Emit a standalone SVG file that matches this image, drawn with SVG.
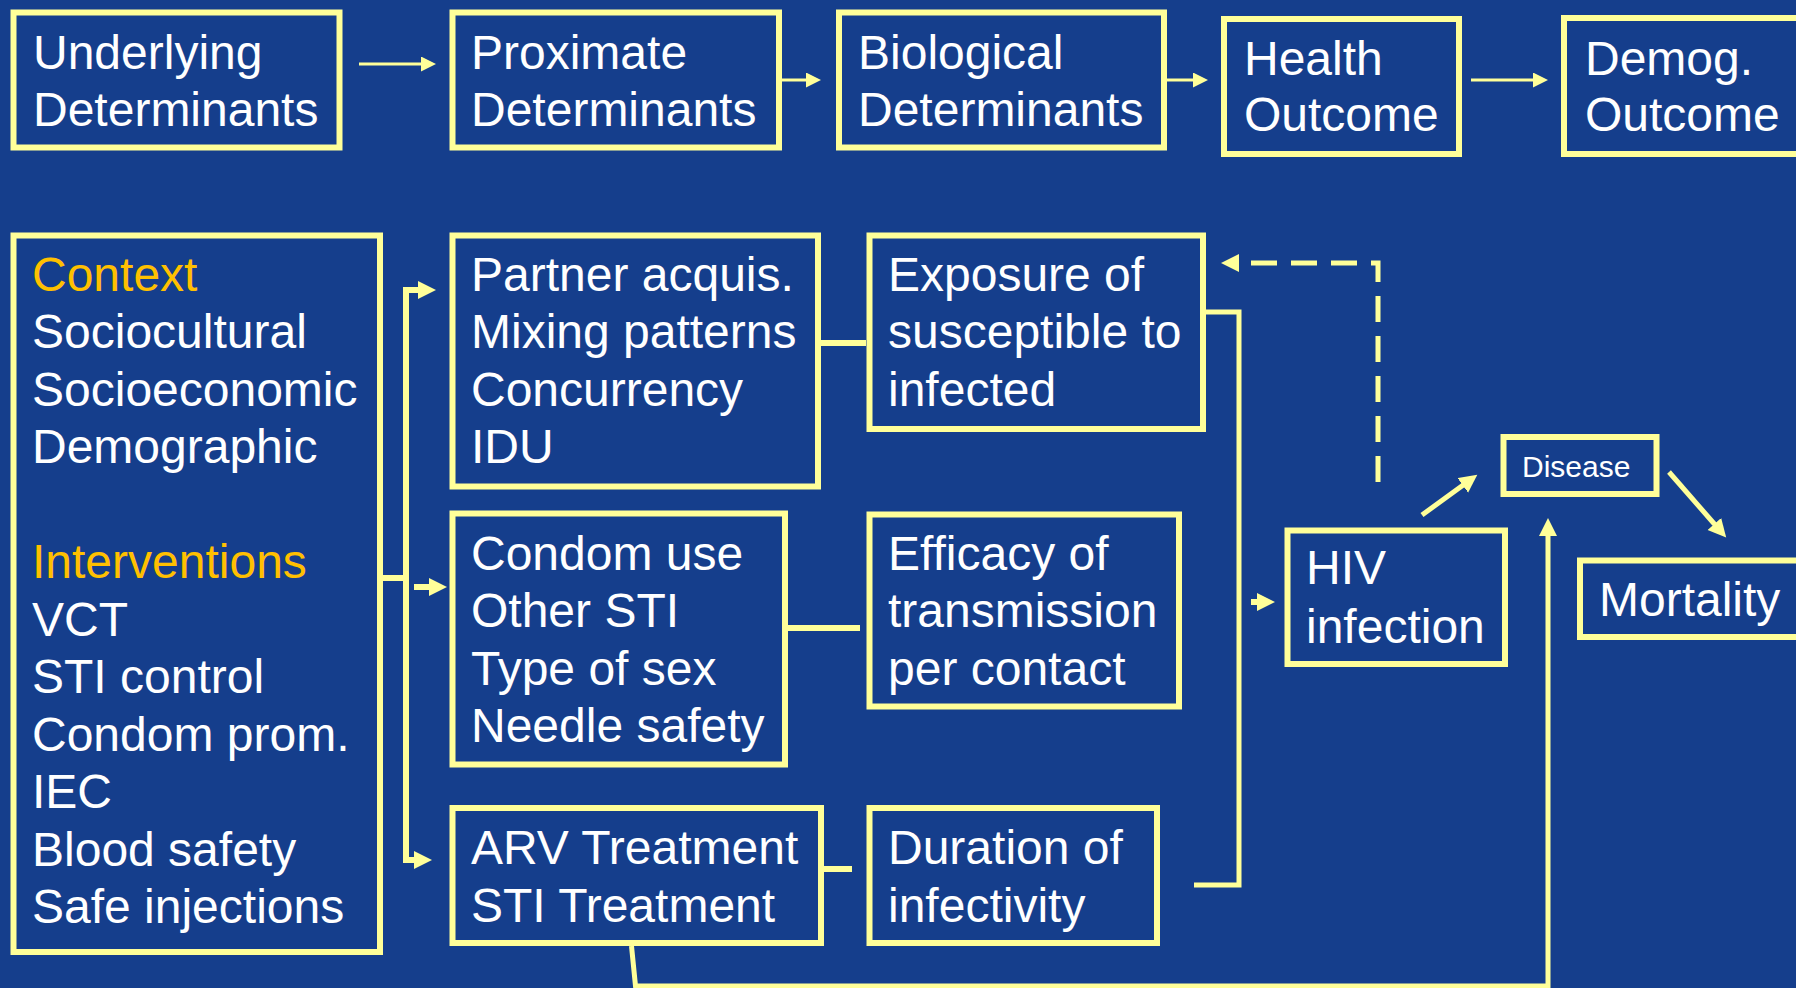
<svg xmlns="http://www.w3.org/2000/svg" width="1796" height="988" viewBox="0 0 1796 988">
<style>
.box{fill:#153E8C;stroke:#FFFF99;stroke-width:6}
.t{font-family:"Liberation Sans",Arial,sans-serif;font-size:48px;fill:#FFFFFF}
.o{fill:#FFC000}
.thin{fill:none;stroke:#FFFF99;stroke-width:3}
.thick{fill:none;stroke:#FFFF99;stroke-width:6}
.med{fill:none;stroke:#FFFF99;stroke-width:5}
</style>
<defs>
<marker id="ah" markerUnits="userSpaceOnUse" markerWidth="16" markerHeight="16" refX="2" refY="7.5" orient="auto"><path d="M0,0 L15,7.5 L0,15 z" fill="#FFFF99"/></marker>
<marker id="ahb" markerUnits="userSpaceOnUse" markerWidth="20" markerHeight="20" refX="4" refY="9" orient="auto"><path d="M0,0 L18,9 L0,18 z" fill="#FFFF99"/></marker>
</defs>
<rect width="1796" height="988" fill="#153E8C"/>
<g id="connectors">
<line class="thin" x1="359" y1="64" x2="423" y2="64" marker-end="url(#ah)"/>
<line class="thin" x1="782" y1="80" x2="808" y2="80" marker-end="url(#ah)"/>
<line class="thin" x1="1167" y1="80" x2="1195" y2="80" marker-end="url(#ah)"/>
<line class="thin" x1="1471" y1="80" x2="1535" y2="80" marker-end="url(#ah)"/>
<path class="thick" d="M380,578 H404"/>
<path class="thick" d="M406,863 V290 H422" marker-end="url(#ahb)"/>
<path class="thick" d="M406,860 H418" marker-end="url(#ahb)"/>
<path class="thick" d="M414,587 H433" marker-end="url(#ahb)"/>
<path class="thick" d="M821,343 H866"/>
<path class="thick" d="M788,628 H860"/>
<path class="thick" d="M824,869 H852"/>
<path class="med" d="M1194,312 H1239 V885 H1194"/>
<path class="thick" d="M1251,602 H1261" marker-end="url(#ahb)"/>
<path class="med" d="M1378,482 V263 H1235" stroke-dasharray="26 14" marker-end="url(#ahb)"/>
<line class="med" x1="1422" y1="515" x2="1466" y2="483" marker-end="url(#ahb)"/>
<line class="med" x1="1669" y1="472" x2="1717" y2="527" marker-end="url(#ahb)"/>
<path class="med" d="M631.5,946 L635.5,986 H1548 V532" marker-end="url(#ahb)"/>
</g>
<g id="underlying"><rect class="box" x="13.5" y="12.5" width="326" height="135"/><text class="t" x="33" y="69">Underlying</text><text class="t" x="33" y="126">Determinants</text></g>
<g id="proximate"><rect class="box" x="452.5" y="12.5" width="326.5" height="135"/><text class="t" x="471" y="69">Proximate</text><text class="t" x="471" y="126">Determinants</text></g>
<g id="biological"><rect class="box" x="839" y="12.5" width="325" height="135"/><text class="t" x="858" y="69">Biological</text><text class="t" x="858" y="126">Determinants</text></g>
<g id="health"><rect class="box" x="1224" y="19" width="235" height="135"/><text class="t" x="1244" y="75">Health</text><text class="t" x="1244" y="131">Outcome</text></g>
<g id="demog"><rect class="box" x="1564" y="18" width="260" height="136"/><text class="t" x="1585" y="75">Demog.</text><text class="t" x="1585" y="131">Outcome</text></g>
<g id="context"><rect class="box" x="13.5" y="235.5" width="366.5" height="716.5"/>
<text class="t o" x="32" y="290.5">Context</text>
<text class="t" x="32" y="348">Sociocultural</text>
<text class="t" x="32" y="405.5">Socioeconomic</text>
<text class="t" x="32" y="463">Demographic</text>
<text class="t o" x="32" y="578">Interventions</text>
<text class="t" x="32" y="635.5">VCT</text>
<text class="t" x="32" y="693">STI control</text>
<text class="t" x="32" y="750.5">Condom prom.</text>
<text class="t" x="32" y="808">IEC</text>
<text class="t" x="32" y="865.5">Blood safety</text>
<text class="t" x="32" y="923">Safe injections</text>
</g>
<g id="partner"><rect class="box" x="452.5" y="235.5" width="365.5" height="251"/>
<text class="t" x="471" y="290.5">Partner acquis.</text>
<text class="t" x="471" y="348">Mixing patterns</text>
<text class="t" x="471" y="405.5">Concurrency</text>
<text class="t" x="471" y="463">IDU</text>
</g>
<g id="condom"><rect class="box" x="452.5" y="513.5" width="332.5" height="251"/>
<text class="t" x="471" y="569.5">Condom use</text>
<text class="t" x="471" y="627">Other STI</text>
<text class="t" x="471" y="684.5">Type of sex</text>
<text class="t" x="471" y="742">Needle safety</text>
</g>
<g id="arv"><rect class="box" x="452.5" y="808" width="368.5" height="135"/>
<text class="t" x="471" y="863.5">ARV Treatment</text>
<text class="t" x="471" y="921.5">STI Treatment</text>
</g>
<g id="exposure"><rect class="box" x="869.5" y="235.5" width="333.5" height="193.5"/>
<text class="t" x="888" y="290.5">Exposure of</text>
<text class="t" x="888" y="348">susceptible to</text>
<text class="t" x="888" y="405.5">infected</text>
</g>
<g id="efficacy"><rect class="box" x="869.5" y="514.5" width="309.5" height="192"/>
<text class="t" x="888" y="569.5">Efficacy of</text>
<text class="t" x="888" y="627">transmission</text>
<text class="t" x="888" y="684.5">per contact</text>
</g>
<g id="duration"><rect class="box" x="869.5" y="808" width="287.5" height="135"/>
<text class="t" x="888" y="863.5">Duration of</text>
<text class="t" x="888" y="921.5">infectivity</text>
</g>
<g id="hiv"><rect class="box" x="1287.5" y="530.5" width="217.5" height="133.5"/>
<text class="t" x="1306" y="583.5">HIV</text>
<text class="t" x="1306" y="642.5">infection</text>
</g>
<g id="disease"><rect class="box" x="1503.5" y="437" width="153" height="57"/>
<text class="t" x="1522" y="477" style="font-size:30px">Disease</text>
</g>
<g id="mortality"><rect class="box" x="1580" y="560.5" width="240" height="76.5"/>
<text class="t" x="1599" y="616">Mortality</text>
</g>
</svg>
